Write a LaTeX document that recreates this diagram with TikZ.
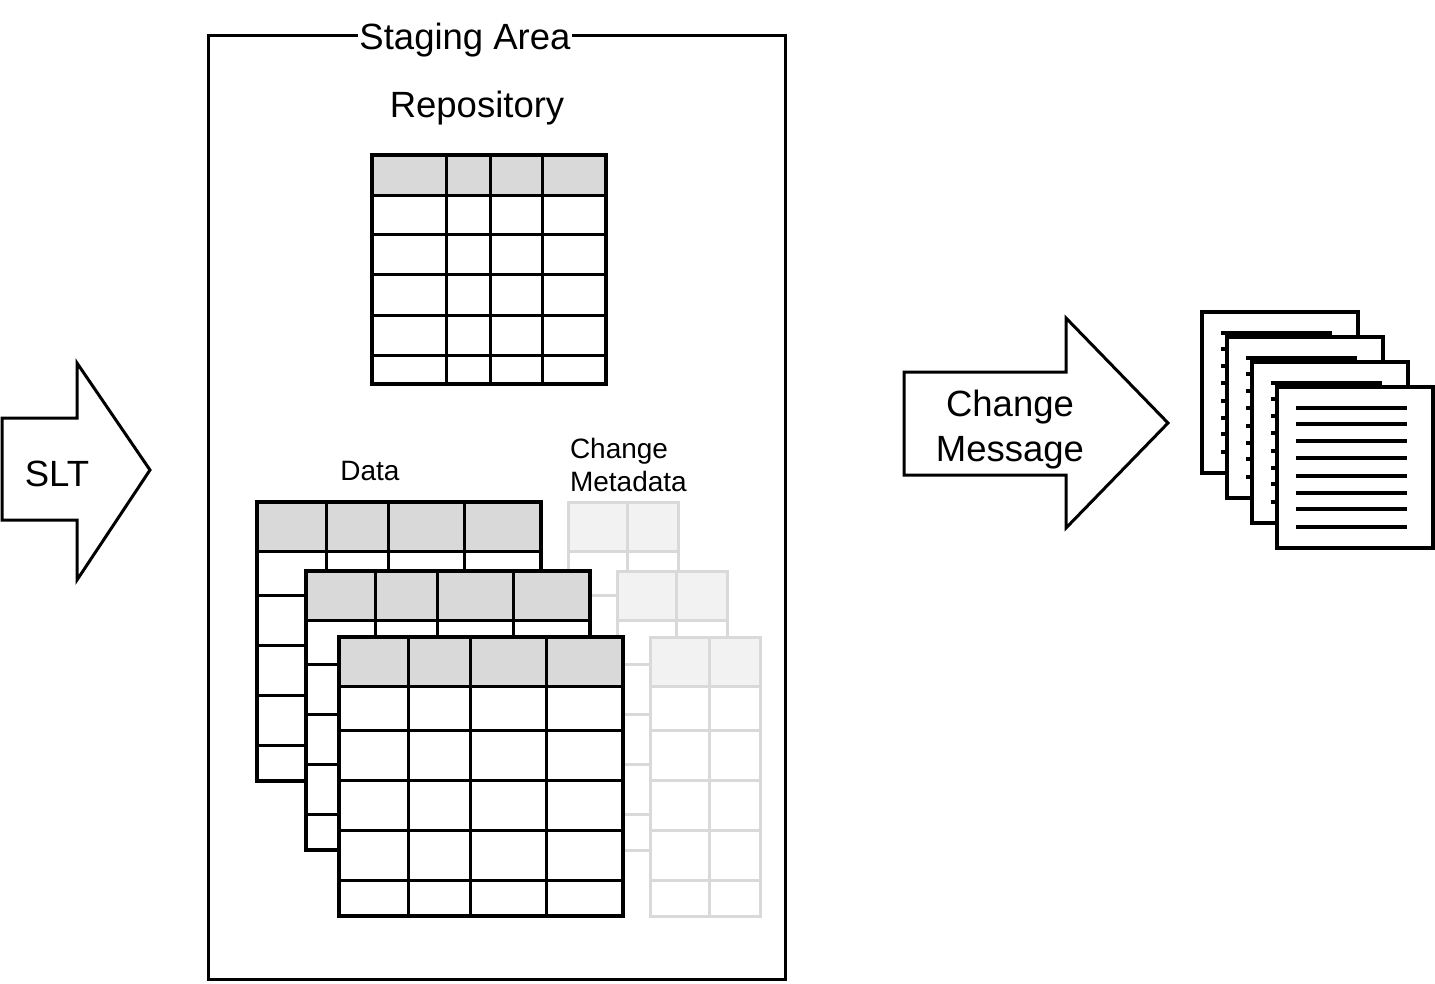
\documentclass[tikz,border=0pt]{standalone}
\usepackage{fontspec}
\setmainfont{Liberation Sans}
\definecolor{hdrgray}{HTML}{D9D9D9}
\definecolor{lightgray2}{HTML}{D9D9D9}
\definecolor{lighthdr}{HTML}{F2F2F2}
\newcommand{\bigfnt}{\fontsize{36.5}{45}\selectfont}
\newcommand{\smallfnt}{\fontsize{28}{33}\selectfont}
\newcommand{\wide}[1]{\scalebox{1.0}[1]{#1}}
\tikzset{
  tblbase/.style={fill=white, inner sep=0pt, outer sep=0pt, anchor=north west},
  dataline/.style={draw=black, line width=3pt},
  dataout/.style={draw=black, line width=4pt, line join=miter},
  metaline/.style={draw=lightgray2, line width=3pt},
  docline/.style={draw=black, line width=3.5pt},
  docout/.style={draw=black, line width=4pt, line join=miter},
  blockarrow/.style={draw=black, fill=white, line width=3pt, line join=miter},
  lbl/.style={inner sep=0pt, outer sep=0pt},
}
% data table: name, x, y
\newcommand{\datatbl}[3]{%
  \node[tblbase, minimum width=284pt, minimum height=279pt] (#1) at (#2,#3) {};
  \begin{scope}[shift={(#1.north west)}]
    \fill[hdrgray] (0,0) rectangle (284,49);
    \foreach \c in {69,131,207} \draw[dataline] (\c,0) -- (\c,279);
    \foreach \r in {49,93,143,193,243} \draw[dataline] (0,\r) -- (284,\r);
    \draw[dataout] (0,0) rectangle (284,279);
  \end{scope}}
% metadata table: name, x, y
\newcommand{\metatbl}[3]{%
  \node[tblbase, minimum width=110pt, minimum height=279pt] (#1) at (#2,#3) {};
  \begin{scope}[shift={(#1.north west)}]
    \fill[lighthdr] (0,0) rectangle (110,49);
    \draw[metaline] (59,0) -- (59,279);
    \foreach \r in {49,93,143,193,243} \draw[metaline] (0,\r) -- (110,\r);
    \draw[metaline] (0,0) rectangle (110,279);
  \end{scope}}
% document page: name, x, y
\newcommand{\docpage}[3]{%
  \node[tblbase, minimum width=156pt, minimum height=161pt] (#1) at (#2,#3) {};
  \begin{scope}[shift={(#1.north west)}]
    \foreach \r in {21,37,54,71,89,106,122,140} \draw[docline] (19,\r) -- (130,\r);
    \draw[docout] (0,0) rectangle (156,161);
  \end{scope}}
\begin{document}
\begin{tikzpicture}[x=1pt,y=-1pt]
\useasboundingbox (0,0) rectangle (1435,983);
\fill[white] (0,0) rectangle (1435,983);

% Staging area box
\node[draw=black, line width=3pt, inner sep=0pt, outer sep=0pt, anchor=north west,
      minimum width=577pt, minimum height=944pt] (stage) at (208,35) {};
\node[lbl, fill=white, inner xsep=1pt, anchor=base] (stagelbl) at (465,49) {\bigfnt\wide{Staging Area}};
\node[lbl, anchor=base] (repolbl) at (477,117) {\bigfnt\wide{Repository}};

% Repository table
\node[tblbase, minimum width=234pt, minimum height=229pt] (repo) at (372,155) {};
\begin{scope}[shift={(repo.north west)}]
  \fill[hdrgray] (0,0) rectangle (234,40);
  \foreach \c in {74,118,170} \draw[dataline] (\c,0) -- (\c,229);
  \foreach \r in {40,79,119,160,200} \draw[dataline] (0,\r) -- (234,\r);
  \draw[dataout] (0,0) rectangle (234,229);
\end{scope}

% Labels
\node[lbl, anchor=base] (datalbl) at (370,480) {\smallfnt\wide{Data}};
\node[lbl, anchor=base west] (metalbl) at (570,458)
  {\smallfnt\wide{\begin{tabular}[t]{@{}l@{}}Change\\Metadata\end{tabular}}};

% Metadata tables
\metatbl{m1}{568}{502}
\metatbl{m2}{617}{571}
\metatbl{m3}{650}{637}

% Data tables
\datatbl{t1}{257}{502}
\datatbl{t2}{306}{571}
\datatbl{t3}{339}{637}

% SLT arrow
\draw[blockarrow] (2,418) -- (77,418) -- (77,363) -- (150,470) -- (77,580) -- (77,520) -- (2,520) -- cycle;
\node[lbl, anchor=base] (slt) at (57,486) {\bigfnt\wide{SLT}};

% Change message arrow
\draw[blockarrow] (904,372) -- (1066,372) -- (1066,318) -- (1168,423) -- (1066,528) -- (1066,475) -- (904,475) -- cycle;
\node[lbl, anchor=base] (chmsg) at (1010,416)
  {\bigfnt\wide{\begin{tabular}[t]{@{}c@{}}Change\\Message\end{tabular}}};

% Document stack
\docpage{d1}{1202}{312}
\docpage{d2}{1227}{337}
\docpage{d3}{1252}{362}
\docpage{d4}{1277}{387}
\end{tikzpicture}
\end{document}
